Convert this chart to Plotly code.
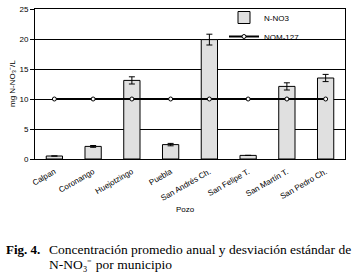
import plotly.graph_objects as go

categories = ["Calpan", "Coronango", "Huejotzingo", "Puebla", "San Andrés Ch.",
              "San Felipe T.", "San Martín T.", "San Pedro Ch."]
n_no3 = [0.5, 2.1, 13.1, 2.4, 19.9, 0.6, 12.1, 13.5]
n_no3_sd = [0.0, 0.15, 0.6, 0.2, 0.9, 0.0, 0.6, 0.6]
nom_127 = [10, 10, 10, 10, 10, 10, 10, 10]
y_ticks = [0, 5, 10, 15, 20, 25]

fig = go.Figure()
fig.add_trace(go.Bar(
    x=categories, y=n_no3, name="N-NO3",
    marker=dict(color="#e0e0e0", line=dict(color="black", width=1)),
    width=0.42,
    error_y=dict(type="data", array=n_no3_sd, color="black", thickness=1, width=3),
))
fig.add_trace(go.Scatter(
    x=categories, y=nom_127, name="NOM-127", mode="lines+markers",
    line=dict(color="black", width=2),
    marker=dict(symbol="circle", size=4, color="white", line=dict(color="black", width=1)),
))

L, R, T, B = 35, 10, 9, 114
W, H = 355, 273
pw = W - L - R
ph = H - T - B

def py(ypix):
    return (H - B - ypix) / ph

fig.update_layout(
    width=W, height=H,
    margin=dict(l=L, r=R, t=T, b=B, pad=0, autoexpand=False),
    paper_bgcolor="white", plot_bgcolor="white",
    font=dict(family="Liberation Sans, Arial", size=8, color="black"),
    showlegend=True,
    legend=dict(x=(224 - L) / pw, y=py(3), xanchor="left", yanchor="top",
                bgcolor="rgba(0,0,0,0)", borderwidth=0,
                font=dict(size=8), itemwidth=30, tracegroupgap=0),
    bargap=0.5,
)
fig.update_xaxes(
    type="category", range=[-0.5, 7.5], automargin=False,
    showline=True, linecolor="black", linewidth=1, mirror=True,
    showgrid=False, ticks="", tickangle=-30, ticklabelstandoff=4,
    tickfont=dict(size=8),
)
fig.update_yaxes(
    range=[0, 25], tickvals=y_ticks, automargin=False,
    showline=True, linecolor="black", linewidth=1, mirror=True,
    showgrid=True, gridcolor="black", gridwidth=1,
    ticks="outside", ticklen=4, tickcolor="black",
    tickfont=dict(size=8), zeroline=False,
)

fig.add_annotation(
    text="mg N-NO₃⁻/L", textangle=-90,
    xref="paper", yref="paper", x=(12 - L) / pw, y=0.5,
    xanchor="center", yanchor="middle", showarrow=False,
    font=dict(size=8),
)
fig.add_annotation(
    text="Pozo", xref="paper", yref="paper",
    x=(185 - L) / pw, y=py(209),
    xanchor="center", yanchor="middle", showarrow=False, font=dict(size=8),
)
cap_font = dict(family="Liberation Serif, Times New Roman", size=13.5, color="black")
fig.add_annotation(
    text="<b>Fig. 4.</b>", xref="paper", yref="paper",
    x=(4 - L) / pw, y=py(249),
    xanchor="left", yanchor="middle", showarrow=False,
    font=dict(family="Liberation Serif, Times New Roman", size=13, color="black"),
)
fig.add_annotation(
    text="Concentración promedio anual y desviación estándar de",
    xref="paper", yref="paper",
    x=(47 - L) / pw, y=py(249),
    xanchor="left", yanchor="middle", showarrow=False, font=cap_font,
)
fig.add_annotation(
    text="N-NO₃⁻ por municipio",
    xref="paper", yref="paper",
    x=(47 - L) / pw, y=py(264),
    xanchor="left", yanchor="middle", showarrow=False, font=cap_font,
)

fig.write_html("out.html", config={"displayModeBar": False},
               post_script="document.body.style.margin='0';")
